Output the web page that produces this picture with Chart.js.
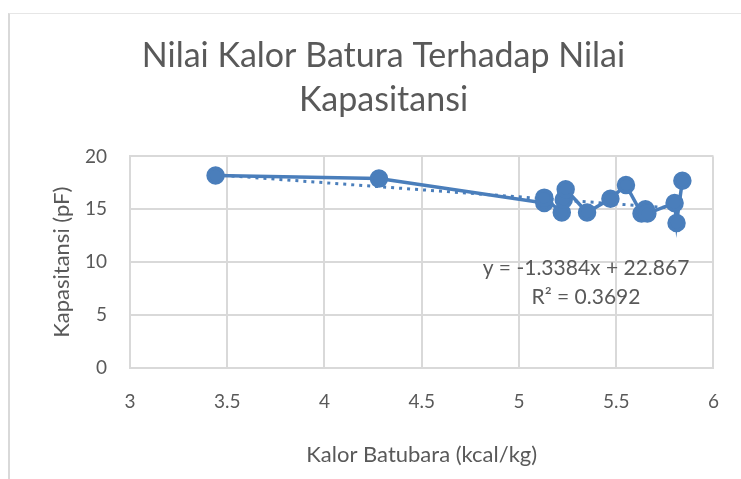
<!DOCTYPE html>
<html lang="id">
<head>
    <meta charset="UTF-8">
    <title>Nilai Kalor Batura Terhadap Nilai Kapasitansi</title>
    <script src="https://cdn.jsdelivr.net/npm/chart.js"></script>
    <style>
        html, body { margin: 0; padding: 0; background: #fff; }
        .frame {
            position: absolute;
            left: 8px;
            top: 13px;
            width: 760px;
            height: 500px;
            border-left: 2px solid #d9d9d9;
            border-top: 1px solid #e6e6e6;
        }
        .wrap {
            position: absolute;
            left: 0;
            top: 0;
            width: 741px;
            height: 479px;
        }
    </style>
</head>
<body>
    <div class="frame"></div>
    <div class="wrap"><canvas id="kalorChart" width="741" height="479"></canvas></div>

    <script>
        // data
        const kalor = [3.44, 4.28, 5.13, 5.13, 5.22, 5.23, 5.24, 5.35, 5.47, 5.55, 5.63, 5.65, 5.66, 5.80, 5.81, 5.84];
        const kapasitansi = [18.2, 17.9, 15.6, 16.1, 14.7, 15.9, 16.9, 14.7, 16.0, 17.3, 14.6, 15.0, 14.6, 15.6, 13.7, 17.7];
        const xTicks = [3, 3.5, 4, 4.5, 5, 5.5, 6];
        const yTicks = [0, 5, 10, 15, 20];

        // garis tren linear (dari persamaan di grafik)
        const trendSlope = -1.3384;
        const trendIntercept = 22.867;
        const trendText = ['y = -1.3384x + 22.867', 'R\u00b2 = 0.3692'];

        const blue = '#4a7ebb';
        const textColor = '#595959';
        const gridColor = '#d9d9d9';
        const fontFamily = 'Lato, "Open Sans", sans-serif';

        const points = kalor.map((x, i) => ({ x: x, y: kapasitansi[i] }));
        const xMin = Math.min(...kalor);
        const xMax = Math.max(...kalor);
        const trendPoints = [
            { x: xMin, y: trendSlope * xMin + trendIntercept },
            { x: xMax, y: trendSlope * xMax + trendIntercept }
        ];

        const equationLabel = {
            id: 'equationLabel',
            afterDatasetsDraw(chart) {
                const ctx = chart.ctx;
                ctx.save();
                ctx.fillStyle = textColor;
                ctx.font = '21px ' + fontFamily;
                ctx.textAlign = 'center';
                ctx.textBaseline = 'middle';
                ctx.fillText(trendText[0], 586, 268);
                ctx.fillText(trendText[1], 586, 297);
                ctx.restore();
            }
        };

        new Chart(document.getElementById('kalorChart'), {
            type: 'scatter',
            data: {
                datasets: [
                    {
                        label: 'Kapasitansi',
                        data: points,
                        showLine: true,
                        borderColor: blue,
                        backgroundColor: blue,
                        borderWidth: 3.5,
                        pointRadius: 7.5,
                        pointHoverRadius: 7.5,
                        order: 1
                    },
                    {
                        label: 'Linear',
                        data: trendPoints,
                        showLine: true,
                        borderColor: blue,
                        borderWidth: 3,
                        borderDash: [3, 5],
                        pointRadius: 0,
                        order: 2
                    }
                ]
            },
            options: {
                responsive: false,
                animation: false,
                layout: { padding: { left: 48, right: 22, top: 0, bottom: 0 } },
                plugins: {
                    legend: { display: false },
                    tooltip: { enabled: false },
                    title: {
                        display: true,
                        text: ['Nilai Kalor Batura Terhadap Nilai', 'Kapasitansi'],
                        color: textColor,
                        font: { family: fontFamily, size: 34, weight: 'normal', lineHeight: 1.3 },
                        padding: { top: 34, bottom: 34 }
                    }
                },
                scales: {
                    x: {
                        type: 'linear',
                        min: 3,
                        max: 6,
                        afterBuildTicks: (axis) => { axis.ticks = xTicks.map(v => ({ value: v })); },
                        afterFit: (axis) => { axis.height = 111; },
                        grid: { color: gridColor, lineWidth: 2, drawTicks: false },
                        border: { color: gridColor, width: 2 },
                        ticks: {
                            color: textColor,
                            padding: 22,
                            font: { family: fontFamily, size: 19 },
                            callback: (v) => String(v)
                        },
                        title: {
                            display: true,
                            text: 'Kalor Batubara (kcal/kg)',
                            color: textColor,
                            font: { family: fontFamily, size: 22 },
                            padding: { top: 0, bottom: 11 }
                        }
                    },
                    y: {
                        type: 'linear',
                        min: 0,
                        max: 20,
                        afterBuildTicks: (axis) => { axis.ticks = yTicks.map(v => ({ value: v })); },
                        afterFit: (axis) => { axis.width = 82; },
                        grid: { color: gridColor, lineWidth: 2, drawTicks: false },
                        border: { color: gridColor, width: 2 },
                        ticks: {
                            color: textColor,
                            padding: 23,
                            font: { family: fontFamily, size: 19 },
                            callback: (v) => String(v)
                        },
                        title: {
                            display: true,
                            text: 'Kapasitansi (pF)',
                            color: textColor,
                            font: { family: fontFamily, size: 22 },
                            padding: { top: 1, bottom: 0 }
                        }
                    }
                }
            },
            plugins: [equationLabel]
        });
    </script>
</body>
</html>
